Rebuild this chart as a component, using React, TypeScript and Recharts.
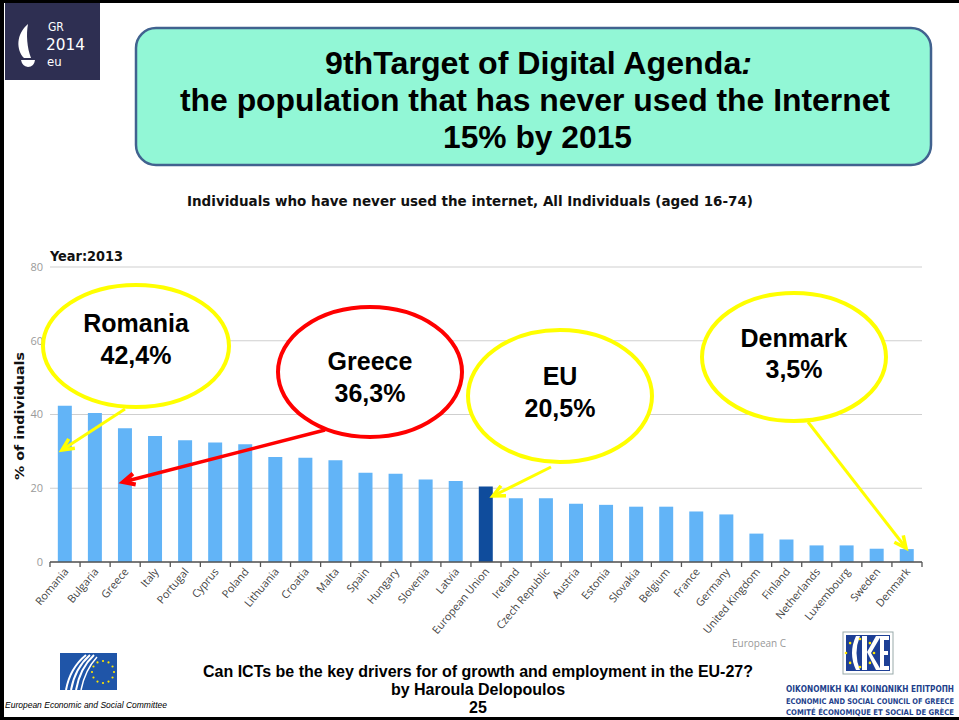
import React from 'react';
import { BarChart, Bar, XAxis, YAxis, CartesianGrid, Cell } from 'recharts';

const countries = [
  'Romania', 'Bulgaria', 'Greece', 'Italy', 'Portugal', 'Cyprus', 'Poland', 'Lithuania',
  'Croatia', 'Malta', 'Spain', 'Hungary', 'Slovenia', 'Latvia', 'European Union', 'Ireland',
  'Czech Republic', 'Austria', 'Estonia', 'Slovakia', 'Belgium', 'France', 'Germany',
  'United Kingdom', 'Finland', 'Netherlands', 'Luxembourg', 'Sweden', 'Denmark',
];
const neverUsed = [
  42.4, 40.4, 36.3, 34.2, 33.0, 32.4, 31.9, 28.5,
  28.3, 27.6, 24.2, 23.9, 22.4, 22.0, 20.5, 17.3,
  17.3, 15.8, 15.5, 15.0, 15.0, 13.7, 12.9,
  7.7, 6.1, 4.5, 4.5, 3.6, 3.5,
];
const yTicks = [0, 20, 40, 60, 80];
const highlight = 'European Union';

const data = countries.map((c, i) => ({ country: c, value: neverUsed[i] }));

const CHART_W = 959;
const CHART_H = 720;
const M_LEFT = 20;
const Y_AXIS_W = 30;
const M_RIGHT = 37;
const BAND = (CHART_W - M_LEFT - Y_AXIS_W - M_RIGHT) / countries.length;

const ARIAL = "'Liberation Sans', Arial, sans-serif";
const COND = "'DejaVu Sans Condensed', 'DejaVu Sans', sans-serif";

const XTick = (props: any) => {
  const { x, y, payload, index } = props;
  const half = BAND / 2;
  const tx = x + 4;
  const ty = y + 10;
  return (
    <g>
      <line x1={x - half} y1={y} x2={x - half} y2={y + 5} stroke="#555" strokeWidth={1.3} />
      {index === countries.length - 1 && (
        <line x1={x + half} y1={y} x2={x + half} y2={y + 5} stroke="#555" strokeWidth={1.3} />
      )}
      <text
        x={tx}
        y={ty}
        transform={`rotate(-50 ${tx} ${ty})`}
        textAnchor="end"
        fontFamily="'Open Sans', sans-serif"
        fontSize={10.8}
        fill="#444"
      >
        {payload.value}
      </text>
    </g>
  );
};

const head = (x1: number, y1: number, x2: number, y2: number, len: number) => {
  const a = Math.atan2(y2 - y1, x2 - x1);
  const s = 0.45;
  const p1 = [x2 - len * Math.cos(a - s), y2 - len * Math.sin(a - s)];
  const p2 = [x2 - len * Math.cos(a + s), y2 - len * Math.sin(a + s)];
  return `${p1[0]},${p1[1]} ${x2},${y2} ${p2[0]},${p2[1]}`;
};

const Arrow = ({ x1, y1, x2, y2, color, w }: any) => (
  <g>
    <line x1={x1} y1={y1} x2={x2} y2={y2} stroke={color} strokeWidth={w} />
    <polyline points={head(x1, y1, x2, y2, 13)} fill="none" stroke={color} strokeWidth={w + 0.5} strokeLinejoin="miter" />
  </g>
);

const Callout = ({ cx, cy, rx, ry, color, l1, l2, b1, b2 }: any) => (
  <g>
    <ellipse cx={cx} cy={cy} rx={rx} ry={ry} fill="#fff" stroke={color} strokeWidth={4} />
    <text x={cx} y={b1} textAnchor="middle" fontFamily={ARIAL} fontWeight="bold" fontSize={25} fill="#000">{l1}</text>
    <text x={cx} y={b2} textAnchor="middle" fontFamily={ARIAL} fontWeight="bold" fontSize={25} fill="#000">{l2}</text>
  </g>
);

const starDots = (cx: number, cy: number, r: number, n: number, size: number) =>
  Array.from({ length: n }, (_, i) => {
    const a = (i / n) * Math.PI * 2;
    return <circle key={i} cx={cx + r * Math.cos(a)} cy={cy + r * Math.sin(a)} r={size} fill="#ffe600" />;
  });

export default function App() {
  return (
    <div style={{ position: 'absolute', left: 0, top: 0, width: CHART_W, height: CHART_H, background: '#fff', overflow: 'hidden' }}>
      <div style={{ position: 'absolute', left: 0, top: 0 }}>
        <BarChart
          width={CHART_W}
          height={CHART_H}
          data={data}
          margin={{ top: 267, right: M_RIGHT, bottom: 58, left: M_LEFT }}
          barCategoryGap="26%"
        >
          <CartesianGrid vertical={false} stroke="#cfcfcf" strokeWidth={1} />
          <YAxis
            width={Y_AXIS_W}
            domain={[0, 80]}
            ticks={yTicks}
            axisLine={false}
            tickLine={false}
            tickSize={5}
            tickMargin={2}
            tick={{ fill: '#9a9a9a', fontSize: 11, fontFamily: "'Open Sans', sans-serif" }}
          />
          <XAxis
            dataKey="country"
            interval={0}
            height={100}
            tickLine={false}
            tickSize={0}
            tickMargin={0}
            axisLine={{ stroke: '#555', strokeWidth: 1.5 }}
            tick={<XTick />}
          />
          <Bar dataKey="value" isAnimationActive={false}>
            {data.map((d) => (
              <Cell key={d.country} fill={d.country === highlight ? '#0f4c9c' : '#62b4f7'} />
            ))}
          </Bar>
        </BarChart>
      </div>
      <svg width={CHART_W} height={CHART_H} style={{ position: 'absolute', left: 0, top: 0, pointerEvents: 'none' }}>
        {/* frame */}
        <rect x={0} y={0} width={959} height={3} fill="#000" />
        <rect x={0} y={0} width={4} height={720} fill="#000" />
        <rect x={0} y={717} width={959} height={3} fill="#000" />

        {/* top-left logo */}
        <rect x={5} y={3} width={95} height={77} fill="#2e2f52" />
        <path d="M28,24 C16,34 16,50 24,58 L31,58 C27,48 26,34 28,24 Z" fill="#fff" />
        <path d="M21,60 L35,60 Q34,67 28,67 Q22,66 21,60 Z" fill="#fff" />
        <text x={48} y={31} fill="#fff" fontFamily={COND} fontSize={12}>GR</text>
        <text x={46} y={50} textLength={39} lengthAdjust="spacingAndGlyphs" fill="#fff" fontFamily={COND} fontWeight={300} fontSize={16}>2014</text>
        <text x={47} y={66} fill="#fff" fontFamily={COND} fontSize={13}>eu</text>

        {/* title box */}
        <rect x={136} y={28} width={795} height={137} rx={20} ry={20} fill="#92f7d6" stroke="#41628f" strokeWidth={2.5} />
        <text x={325} y={74} textLength={427} lengthAdjust="spacingAndGlyphs" fontFamily={ARIAL} fontWeight="bold" fontSize={31} fill="#000">
          9thTarget of Digital Agenda<tspan fontStyle="italic">:</tspan>
        </text>
        <text x={180} y={111} textLength={710} lengthAdjust="spacingAndGlyphs" fontFamily={ARIAL} fontWeight="bold" fontSize={31} fill="#000">
          the population that has never used the Internet
        </text>
        <text x={443} y={148} textLength={189} lengthAdjust="spacingAndGlyphs" fontFamily={ARIAL} fontWeight="bold" fontSize={31} fill="#000">
          15% by 2015
        </text>

        {/* chart titles */}
        <text x={187} y={206} textLength={566} lengthAdjust="spacingAndGlyphs" fontFamily={COND} fontWeight="bold" fontSize={14.5} fill="#111">
          Individuals who have never used the internet, All Individuals (aged 16-74)
        </text>
        <text x={50} y={261} textLength={73} lengthAdjust="spacingAndGlyphs" fontFamily={COND} fontWeight="bold" fontSize={14} fill="#111">
          Year:2013
        </text>
        <text x={24} y={416} transform="rotate(-90 24 416)" textAnchor="middle" textLength={128} lengthAdjust="spacingAndGlyphs" fontFamily="'DejaVu Sans', sans-serif" fontWeight="bold" fontSize={13} fill="#111">
          % of individuals
        </text>
        <text x={732} y={647} fontFamily="'Open Sans', sans-serif" fontSize={10} fill="#999">European C</text>

        {/* callouts */}
        <Callout cx={136} cy={346} rx={93} ry={61} color="#ffff00" l1="Romania" l2="42,4%" b1={332} b2={364} />
        <Arrow x1={125} y1={409} x2={62} y2={450} color="#ffff00" w={3} />
        <Callout cx={370} cy={372} rx={92} ry={65} color="#ff0000" l1="Greece" l2="36,3%" b1={370} b2={402} />
        <Arrow x1={325} y1={430} x2={123} y2={482} color="#ff0000" w={3.5} />
        <Callout cx={560} cy={396} rx={92} ry={66} color="#ffff00" l1="EU" l2="20,5%" b1={385} b2={417} />
        <Arrow x1={551} y1={467} x2={493} y2={496} color="#ffff00" w={3} />
        <Callout cx={794} cy={357} rx={92} ry={64} color="#ffff00" l1="Denmark" l2="3,5%" b1={347} b2={378} />
        <Arrow x1={808} y1={422} x2={906} y2={548} color="#ffff00" w={3} />

        {/* EESC logo */}
        <rect x={60} y={653} width={57} height={37} fill="#1f55a8" />
        <path d="M66,690 Q70,668 86,655" stroke="#fff" strokeWidth={2} fill="none" />
        <path d="M71,690 Q75,668 90,655" stroke="#fff" strokeWidth={2} fill="none" />
        <path d="M76,690 Q80,668 94,655" stroke="#fff" strokeWidth={2} fill="none" />
        <path d="M81,690 Q85,670 97,657" stroke="#fff" strokeWidth={1.5} fill="none" />
        {starDots(103, 672, 11, 12, 1.1)}
        <text x={5} y={708} textLength={162} lengthAdjust="spacingAndGlyphs" fontFamily={ARIAL} fontStyle="italic" fontSize={8.5} fill="#000">
          European Economic and Social Committee
        </text>

        {/* bottom center text */}
        <text x={478} y={677} textAnchor="middle" fontFamily={ARIAL} fontWeight="bold" fontSize={16} fill="#000">
          Can ICTs be the key drivers for of growth and employment in the EU-27?
        </text>
        <text x={478} y={695} textAnchor="middle" fontFamily={ARIAL} fontWeight="bold" fontSize={16} fill="#000">
          by Haroula Delopoulos
        </text>
        <text x={478} y={713} textAnchor="middle" fontFamily={ARIAL} fontWeight="bold" fontSize={16} fill="#000">
          25
        </text>

        {/* OKE logo */}
        <rect x={843} y={632} width={50} height={42} fill="#fff" stroke="#9aa" strokeWidth={1} />
        <rect x={846} y={635} width={44} height={36} fill="#1d3f95" />
        <path d="M856,636 Q848,653 856,670 L860,670 Q853,653 860,636 Z" fill="#fff" />
        <rect x={862} y={636} width={5} height={34} fill="#fff" />
        <path d="M867,652 L876,636 L881,636 L871,653 L881,670 L876,670 Z" fill="#fff" />
        <path d="M880,636 L889,636 L889,640 L884,640 L884,651 L888,651 L888,655 L884,655 L884,666 L889,666 L889,670 L880,670 Z" fill="#fff" />
        {starDots(860, 653, 14, 8, 1.3)}
        <text x={954} y={692} textAnchor="end" textLength={168} lengthAdjust="spacingAndGlyphs" fontFamily={COND} fontWeight="bold" fontSize={8.5} fill="#233f8c">
          ΟΙΚΟΝΟΜΙΚΗ ΚΑΙ ΚΟΙΝΩΝΙΚΗ ΕΠΙΤΡΟΠΗ
        </text>
        <text x={954} y={703.5} textAnchor="end" textLength={168} lengthAdjust="spacingAndGlyphs" fontFamily={COND} fontWeight="bold" fontSize={7.8} fill="#233f8c">
          ECONOMIC AND SOCIAL COUNCIL OF GREECE
        </text>
        <text x={954} y={715} textAnchor="end" textLength={168} lengthAdjust="spacingAndGlyphs" fontFamily={COND} fontWeight="bold" fontSize={7.8} fill="#233f8c">
          COMITÉ ÉCONOMIQUE ET SOCIAL DE GRÈCE
        </text>
      </svg>
    </div>
  );
}
